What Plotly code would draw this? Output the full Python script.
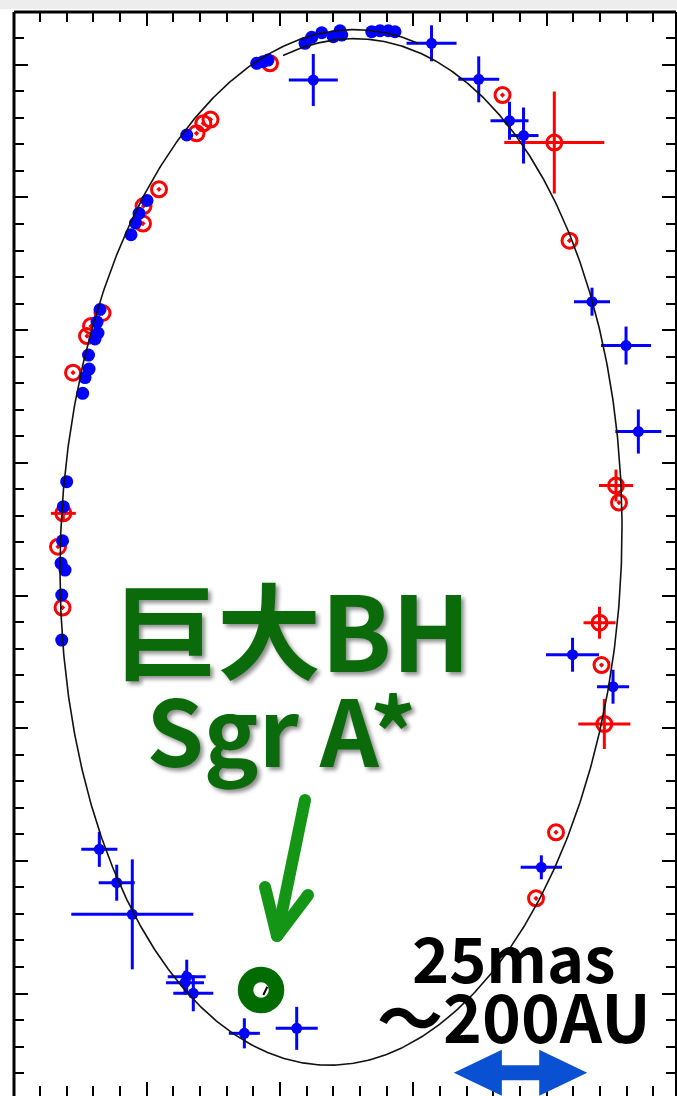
import numpy as np
import plotly.graph_objects as go

# ---- astrometric positions of the star, offsets in mas ----
# filled blue points (no visible error bars)
blue_x = [-4.37, -3.19, -2.25, 4.69, 5.94, 7.82, 9.99, 11.25, 11.57, 17.19, 18.75, 20.31, 21.56,
          -17.49, -24.94, -26.44, -27.09, -27.94, -33.75, -34.31, -34.13, -34.69, -35.91, -35.81,
          -36.56, -37.00, -40.00, -40.63, -40.78, -41.06, -40.31, -40.93, -40.93]
blue_y = [175.28, 175.58, 175.90, 179.05, 180.18, 181.04, 180.29, 181.42, 180.61, 181.23, 181.42, 181.42, 181.23,
          161.77, 149.43, 147.01, 145.19, 142.98, 128.89, 126.53, 124.46, 123.33, 120.31, 117.67,
          116.07, 113.10, 96.44, 91.73, 85.32, 81.06, 79.80, 75.09, 66.61]

# filled blue points with error bars
blue_err_x = [6.24, 28.41, 37.26, 43.03, 45.66, 58.50, 64.88, 67.19, 54.85, 62.44, 49.00,
              -33.88, -30.62, -27.70, -17.49, -17.81, -16.26, -6.69, 3.13]
blue_err_y = [172.13, 179.05, 172.26, 164.46, 161.67, 130.36, 122.10, 105.90, 63.84, 57.81, 23.78,
              27.17, 20.88, 14.92, 3.17, 2.04, 0.04, -7.50, -6.56]
blue_err_dx = [4.59, 4.69, 3.84, 3.56, 2.81, 3.38, 4.69, 4.31, 4.97, 3.00, 3.88,
               3.38, 3.38, 11.44, 3.56, 3.56, 3.75, 2.91, 3.94]
blue_err_dy = [4.90, 3.39, 4.33, 3.58, 5.28, 2.64, 3.58, 4.15, 3.20, 3.20, 2.26,
               3.30, 3.39, 10.36, 3.20, 2.26, 3.39, 2.83, 4.05]

# open red points (no visible error bars)
red_x = [-1.88, -15.66, -14.38, -13.03, -22.69, -25.59, -25.69, -33.28, -35.44, -36.19, -38.81,
         -41.63, -40.78, 41.72, 54.28, 63.56, 60.28, 51.75, 48.00]
red_y = [175.28, 162.09, 163.97, 164.69, 151.54, 148.39, 145.09, 128.23, 125.78, 123.89, 116.98,
         84.19, 72.73, 169.30, 141.85, 92.52, 61.90, 30.38, 17.94]

# open red points with error bars
red_err_x = [51.43, 63.00, 59.91, 60.81, -40.63]
red_err_y = [160.35, 95.72, 69.87, 50.78, 90.48]
red_err_dx = [9.38, 3.19, 3.00, 4.88, 2.34]
red_err_dy = [9.61, 3.01, 3.01, 4.71, 1.50]

# position of the central black hole
bh_x = [-3.56]
bh_y = [0.66]

# ---- best-fit orbit (projected ellipse), mas ----
orbit_cx, orbit_cy = 11.44, 83.57
orbit_ax, orbit_ay = 52.69, 97.14
orbit_phase = np.arccos(0.045)
orbit_drift = 1.7            # offset accumulated over one revolution
orbit_t_start, orbit_t_end = 1.7787, 1.2933 - 2 * np.pi

t = np.linspace(orbit_t_start, orbit_t_end, 900)
progress = (orbit_t_start - t) / (2 * np.pi) - 0.5
orbit_x = orbit_cx + orbit_ax * np.cos(t)
orbit_y = orbit_cy + orbit_ay * np.cos(t - orbit_phase) + orbit_drift * progress

BLUE = "#0000ff"
RED = "#ff0000"
GREEN_TEXT = "#0b6b0b"
GREEN_ARROW = "#159515"
GREEN_RING = "#006c00"

fig = go.Figure()

# red open points
fig.add_trace(go.Scatter(
    x=red_err_x, y=red_err_y, mode="markers",
    error_x=dict(type="data", array=red_err_dx, color=RED, thickness=3, width=0),
    error_y=dict(type="data", array=red_err_dy, color=RED, thickness=3, width=0),
    marker=dict(symbol="circle-open-dot", size=15, color=RED, line=dict(width=3)),
))
fig.add_trace(go.Scatter(
    x=red_x, y=red_y, mode="markers",
    marker=dict(symbol="circle-open-dot", size=15, color=RED, line=dict(width=3)),
))

# blue filled points
fig.add_trace(go.Scatter(
    x=blue_err_x, y=blue_err_y, mode="markers",
    error_x=dict(type="data", array=blue_err_dx, color=BLUE, thickness=3, width=0),
    error_y=dict(type="data", array=blue_err_dy, color=BLUE, thickness=3, width=0),
    marker=dict(symbol="circle", size=11, color=BLUE),
))
fig.add_trace(go.Scatter(
    x=blue_x, y=blue_y, mode="markers",
    marker=dict(symbol="circle", size=13, color=BLUE),
))

# orbit
fig.add_trace(go.Scatter(
    x=orbit_x, y=orbit_y, mode="lines",
    line=dict(color="#111111", width=1.6),
))

# black hole marker
fig.add_trace(go.Scatter(
    x=bh_x, y=bh_y, mode="markers",
    marker=dict(symbol="circle-open", size=31, color=GREEN_RING, line=dict(width=15.5)),
))

# green pointer arrow towards Sgr A*
arrow_shaft_x, arrow_shaft_y = [4.69, -0.56], [36.46, 10.83]
arrow_head_x, arrow_head_y = [-2.81, -0.56, 5.25], [20.07, 10.83, 18.56]
for ax_, ay_ in ((arrow_shaft_x, arrow_shaft_y), (arrow_head_x, arrow_head_y)):
    fig.add_trace(go.Scatter(
        x=ax_, y=ay_, mode="lines+markers",
        line=dict(color=GREEN_ARROW, width=12),
        marker=dict(size=12, color=GREEN_ARROW),
    ))

# blue double arrow showing the 25 mas scale
sb_x0, sb_x1, sb_y = 32.6, 57.6, -14.92
sb_head, sb_half_head, sb_half_shaft = 9.0, 4.33, 1.41
scale_path = (
    f"M {sb_x0},{sb_y} L {sb_x0 + sb_head},{sb_y + sb_half_head} "
    f"L {sb_x0 + sb_head},{sb_y + sb_half_shaft} L {sb_x1 - sb_head},{sb_y + sb_half_shaft} "
    f"L {sb_x1 - sb_head},{sb_y + sb_half_head} L {sb_x1},{sb_y} "
    f"L {sb_x1 - sb_head},{sb_y - sb_half_head} L {sb_x1 - sb_head},{sb_y - sb_half_shaft} "
    f"L {sb_x0 + sb_head},{sb_y - sb_half_shaft} L {sb_x0 + sb_head},{sb_y - sb_half_head} Z"
)

shapes = [
    dict(type="path", path=scale_path, xref="x", yref="y",
         fillcolor="#0a50d2", line=dict(width=0)),
    # small black tick inside the black-hole ring
    dict(type="line", xref="x", yref="y", x0=-3.13, y0=-0.28, x1=-2.38, y1=1.28,
         line=dict(color="black", width=2)),
    # pale strip above the frame
    dict(type="rect", xref="paper", yref="paper", x0=-0.03, x1=1.01, y0=1.0028, y1=1.02,
         fillcolor="#ededed", line=dict(width=0), layer="below"),
    # frame (left, top, right)
    dict(type="line", xref="paper", yref="paper", x0=0, x1=0, y0=0, y1=1,
         line=dict(color="black", width=3)),
    dict(type="line", xref="paper", yref="paper", x0=0, x1=1, y0=1, y1=1,
         line=dict(color="black", width=3)),
    dict(type="line", xref="paper", yref="paper", x0=1, x1=1, y0=0, y1=1,
         line=dict(color="black", width=2)),
]

JP_FONT = "Noto Sans CJK JP"
shadow = "3px 3px 4px rgba(0,0,0,0.45)"
label_bh = ('<span style="font-size:104px">巨大BH</span><br>'
            '<span style="font-size:92px">Sgr A*\u00a0</span>')
label_scale = ('<span style="font-size:63px">25mas</span><br>'
               '<span style="font-size:66px">～200AU</span>')
annotations = [
    dict(x=2.25, y=60.5, text=label_bh, showarrow=False, xanchor="center", yanchor="middle",
         align="center",
         font=dict(family=JP_FONT, size=73, color=GREEN_TEXT, weight="bold", shadow=shadow)),
    dict(x=43.9, y=1.41, text=label_scale, showarrow=False, xanchor="center", yanchor="middle",
         align="center",
         font=dict(family=JP_FONT, size=46, color="black", weight="bold")),
]

tick_style = dict(
    showgrid=False, zeroline=False, showticklabels=False, showline=False,
    ticks="inside", ticklen=14, tickwidth=2, tickcolor="black", mirror="ticks",
    tickmode="linear", tick0=0, dtick=25,
    minor=dict(ticks="inside", ticklen=10, tickwidth=2, tickcolor="black", dtick=5, showgrid=False),
)

fig.update_layout(
    width=677, height=1096,
    margin=dict(l=14, r=1, t=12, b=0, pad=0),
    paper_bgcolor="white", plot_bgcolor="white",
    showlegend=False,
    xaxis=dict(range=[-49.88, 74.25], **tick_style),
    yaxis=dict(range=[-19.31, 184.95], **tick_style),
    shapes=shapes,
    annotations=annotations,
)

fig.write_html("out.html")
